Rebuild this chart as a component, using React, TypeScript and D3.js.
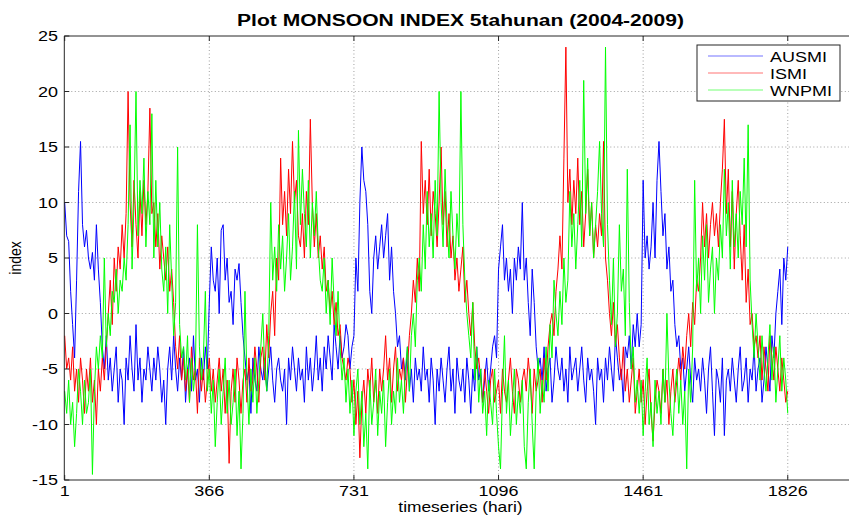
import React from "react";
import * as d3 from "d3";

const WIDTH = 849;
const HEIGHT = 515;
const FONT = "'Liberation Sans', Arial, Helvetica, sans-serif";
// the reference figure is stretched sideways, text included
const TEXT_STRETCH = 1.24;

// one value every 5 days, day 1 .. 1826
const DAY_STEP = 5;
const xTicks = [1, 366, 731, 1096, 1461, 1826];
const yTicks = [-15, -10, -5, 0, 5, 10, 15, 20, 25];
const seriesNames = ["AUSMI", "ISMI", "WNPMI"];
const seriesColors = ["#0000ff", "#ff0000", "#00ff00"];

const ausmi = [
  10, 7, 6.5, 2, -1, -4, 3, 11, 15.5, 8, // 1
  6, 7.5, 5, 4, 5.5, 3, 8, 4, 1, -3, // 51
  -5, -2, -6, -4, -7, -5, -3, -8, -5, -6, // 101
  -10, -4, -6, -2, -5, -7, -1, -6, -4, -8, // 151
  -5, -6, -3, -5, -7, -4, -6, -3, -5, -8, // 201
  -6, -10, -5, -3, -6, -2, -5, -7, -4, -6, // 251
  -3, -8, -5, -4, -7, -2, -6, -5, -8, -4, // 301
  -6, -3, -5, 1, 6, 3, 2, 5, 0, 7.5, // 351
  8, 3, 5, 1, 2, -1, 4, 3, 4.5, 1, // 401
  -2, -4, -6, -5, -9, -4, -6, -7, -3, -5, // 451
  -6, -4, -7, -5, -3, -6, -8, -5, -4, -6, // 501
  -7, -5, -10, -4, -6, -3, -5, -7, -4, -6, // 551
  -5, -8, -3, -6, -4, -7, -5, -2, -6, -4, // 601
  -7, -3, -5, -2, -4, -6, -1, -3, -5, -2, // 651
  -4, -3, -1, -2, -5, -3, -2, 5, 2, 10, // 701
  15, 12, 11, 8, 2, 0, 5, 7, 4, 6, // 751
  8, 5, 7, 9, 3, 6, 2, 0, -3, -2, // 801
  -5, -4, -6, -3, -7, -5, -8, -4, -6, -5, // 851
  -7, -3, -6, -5, -8, -4, -6, -10, -5, -7, // 901
  -4, -6, -8, -5, -3, -7, -5, -9, -4, -6, // 951
  -7, -5, -8, -4, -6, -9, -5, -7, -3, -6, // 1001
  -5, -8, -6, -4, -7, -5, -3, -2, -4, 4, // 1051
  6, 8, 3, 5, 2, 4, 0, 5, 3, 6, // 1101
  4, 10, 3, 5, 1, -2, 4, 1, -3, -5, // 1151
  -4, -6, -3, -7, -5, -4, -8, -6, -3, -5, // 1201
  -6, -4, -7, -5, -8, -3, -6, -5, -4, -7, // 1251
  -5, -3, -6, -8, -4, -6, -5, -7, -10, -4, // 1301
  -6, -5, -8, -4, -6, -3, -5, -7, -2, -4, // 1351
  -6, -5, -8, -3, -4, -2, -5, -1, -3, 0, // 1401
  -3, -1, 12, 5, 7, 4, 6, 10, 5, 12, // 1451
  15.5, 11, 7, 9, 4, 6, 2, 3, -1, -3, // 1501
  -2, -5, -4, -7, -5, -3, -6, -8, -4, -6, // 1551
  -5, -7, -4, -6, -9, -5, -3, -7, -11, -5, // 1601
  -6, -8, -4, -11, -6, -5, -7, -4, -6, -8, // 1651
  -5, -3, -7, -6, -4, -8, -5, -6, -3, -7, // 1701
  -5, -4, -8, -6, -3, -5, -7, -2, -4, 0, // 1751
  2, 4, -1, 5, 3, 6, // 1801
];

const ismi = [
  -2, -5, -4, -6, -3, -7, -5, -8, -4, -6, // 1
  -9, -5, -7, -4, -8, -6, -10, -5, -7, -4, // 51
  -6, -3, 0, 3, -1, 5, 2, 6, 4, 8, // 101
  5, 9, 20, 10, 6, 12, 8, 5, 11, 7, // 151
  12, 8, 11, 18.5, 9, 10, 6, 9, 4, 7, // 201
  5, 3, 6, 2, 4, 1, -3, -5, -2, -6, // 251
  -4, -7, -5, -8, -3, -6, -5, -9, -4, -7, // 301
  -5, -8, -6, -4, -7, -5, -8, -6, -4, -7, // 351
  -5, -9, -6, -13.5, -7, -5, -8, -4, -6, -9, // 401
  -6, -5, -8, -4, -7, -6, -3, -5, -8, -4, // 451
  -3, -6, -1, -4, 0, 2, -2, 5, 3, 14, // 501
  8, 11, 7, 13, 9, 15.5, 10, 12, 7, 6, // 551
  9, 5, 11, 8, 17.5, 10, 6, 9, 5, 7, // 601
  4, 6, 2, 3, 0, 2, -1, 1, -2, -1, // 651
  -4, -5, -6, -4, -5, -8, -6, -10, -7, -13, // 701
  -8, -6, -9, -5, -7, -4, -8, -6, -9, -5, // 751
  -7, -5, -2, -6, -4, -8, -5, -3, -7, -5, // 801
  -6, -4, -8, -5, -2, 0, 3, 1, 5, 2, // 851
  15.5, 9, 12, 8, 13, 7, 11, 9, 6, 10, // 901
  15, 8, 11, 6, 9, 5, 7, 3, 5, 2, // 951
  4, 6, 1, 3, 0, -2, 1, -3, -5, -4, // 1001
  -6, -8, -5, -7, -9, -6, -5, -8, -7, -6, // 1051
  -9, -5, -7, -8, -6, -4, -7, -9, -5, -6, // 1101
  -8, -6, -5, -7, -4, -6, -9, -5, -7, -6, // 1151
  -5, -8, -4, -6, -3, -1, 0, -2, 2, 4, // 1201
  7, 4, 14, 24, 10, 13, 8, 12, 9, 14, // 1251
  8, 11, 6, 9, 13, 7, 10, 5, 8, 6, // 1301
  9, 7, 15.5, 5, 3, 0, -2, 1, -3, -1, // 1351
  -4, -6, -3, -7, -5, -8, -6, -4, -9, -7, // 1401
  -5, -8, -6, -10, -7, -5, -9, -11.5, -8, -6, // 1451
  -7, -9, -5, -8, -6, -10, -7, -5, -8, -6, // 1501
  -4, -6, -3, -5, -2, 0, -3, 1, -1, 3, // 1551
  2, 5, 10, 6, 9, 5, 8, 10, 7, 9, // 1601
  6, 10, 13, 17.5, 9, 13, 6, 11, 4, 9, // 1651
  12, 7, 3, 8, 1, 4, -1, 0, -3, -2, // 1701
  -4, -2, -6, -3, -5, -7, -2, -4, -6, -3, // 1751
  -5, -7, -4, -6, -8, -7, // 1801
];

const wnpmi = [
  -7, -9, -6, -10, -8, -12, -9, -5, -7, -10, // 1
  -6, -9, -8, -5, -14.5, -7, -3, -5, -2, -4, // 51
  5, -3, 0, -2, 2, 1, 4, 0, 3, 2, // 101
  5, 3, 8, 17, 4, 10, 20, 7, 12, 9, // 151
  14, 6, 11, 8, 18, 5, 12, 6, 10, 4, // 201
  2, 6, 0, 8, 3, -2, 1, 15, -1, -4, // 251
  -3, -6, -2, -8, -4, -7, -5, 8, -3, -6, // 301
  -4, 2, -7, -5, -9, -6, -12, -8, -5, -10, // 351
  -7, -4, -9, -6, -10, -8, -5, -11, -7, -14, // 401
  -9, 2, -6, -10, -5, -8, -4, -9, -6, -3, // 451
  0, -5, -7, -2, 10, 3, 6, 2, 8, 4, // 501
  7, 2, 5, 9, 3, 6, 11, 4, 16.5, 8, // 551
  13, 9, 6, 12, 5, 10, 7, 11, 6, 3, // 601
  2, 5, 0, 3, -1, 5, 1, -2, 2, -3, // 651
  -6, -4, -8, -5, -9, -6, -11, -7, -5, -10, // 701
  -7, -12, -9, -14, -6, -10, -8, -5, -11, -7, // 751
  -9, -6, -12, -8, -5, -10, -7, -9, -4, -8, // 801
  -6, -9, -5, -3, -7, -2, 0, -3, 3, 5, // 851
  2, 8, 4, 11, 6, 9, 5, 12, 7, 20, // 901
  10, 6, 13, 8, 5, 11, 7, 4, 9, 6, // 951
  20, 8, 3, 0, -2, -4, 1, -6, -3, -8, // 1001
  -5, -9, -7, -11, -6, -8, -10, -5, -9, -12, // 1051
  -14, -7, -2, -9, -6, -11, -8, -5, -10, -7, // 1101
  -9, -6, -12, -14, -8, -5, -10, -14, -7, -4, // 1151
  -9, -6, -8, -3, -7, -1, -4, 3, 0, -2, // 1201
  2, -1, 5, 1, 3, 11, 6, 9, 4, 8, // 1251
  12, 6, 21, 9, 14, 7, 10, 5, 8, 11, // 1301
  15.5, 9, 6, 24, 8, 3, -1, 5, -3, 0, // 1351
  8, 2, 4, -2, 13, 1, -5, -3, -8, -6, // 1401
  -9, -6, -11, -7, -4, -10, -8, -12, -6, -9, // 1451
  -7, -10, -5, -8, 0, -6, -9, -11, -7, -5, // 1501
  -9, -6, -10, -7, -14, -5, -8, -3, 12, 2, // 1551
  5, 0, 7, 3, 8, 1, 4, 6, 0, 5, // 1601
  3, 8, 5, 13, 7, 10, 4, 12, 6, 9, // 1651
  5, 11, 8, 14, 6, 17, 3, -1, -4, 0, // 1701
  -3, -6, -2, -5, -7, -4, -1, -6, -3, -8, // 1751
  -5, -2, -7, -4, -6, -9, // 1801
];

const allSeries = [ausmi, ismi, wnpmi];

// text drawn at (x, y) and widened like the rest of the figure
function Txt({ x, y, anchor = "start", size = 14.5, bold = false, rotate = 0, children }: any) {
  return (
    <text
      transform={`translate(${x},${y}) scale(${TEXT_STRETCH},1)${rotate ? ` rotate(${rotate})` : ""}`}
      textAnchor={anchor}
      fontFamily={FONT}
      fontSize={size}
      fontWeight={bold ? "bold" : "normal"}
      fill="#000"
    >
      {children}
    </text>
  );
}

export default function App() {
  const left = 64.3;
  const right = 856.7;
  const top = 36;
  const bottom = 480;

  const x = d3.scaleLinear().domain([0, 2000]).range([left, right]);
  const y = d3.scaleLinear().domain([-15, 25]).range([bottom, top]);

  const line = d3
    .line<number>()
    .x((_, i) => x(1 + i * DAY_STEP))
    .y((d) => y(d));

  const tickLen = 5;
  const gridColor = "#777";
  const axisColor = "#262626";

  return (
    <div style={{ position: "absolute", left: 0, top: 0 }}>
      <svg width={WIDTH} height={HEIGHT} style={{ display: "block", background: "#fff" }}>
        <rect width={WIDTH} height={HEIGHT} fill="#fff" />

        {/* grid */}
        {xTicks.slice(1).map((t) => (
          <line key={"gx" + t} x1={x(t)} x2={x(t)} y1={top} y2={bottom}
            stroke={gridColor} strokeWidth={0.7} strokeDasharray="1,2.5" />
        ))}
        {yTicks.slice(1, -1).map((t) => (
          <line key={"gy" + t} x1={left} x2={right} y1={y(t)} y2={y(t)}
            stroke={gridColor} strokeWidth={0.7} strokeDasharray="1,2.5" />
        ))}

        {/* series */}
        {allSeries.map((s, k) => (
          <path key={seriesNames[k]} d={line(s) || ""} fill="none"
            stroke={seriesColors[k]} strokeWidth={1} />
        ))}

        {/* axes box */}
        <path d={`M${left},${top}H${right}M${left},${top}V${bottom}H${right}`}
          fill="none" stroke={axisColor} strokeWidth={1} />

        {/* ticks */}
        {xTicks.map((t) => (
          <g key={"tx" + t}>
            <line x1={x(t)} x2={x(t)} y1={bottom} y2={bottom - tickLen} stroke={axisColor} />
            <line x1={x(t)} x2={x(t)} y1={top} y2={top + tickLen} stroke={axisColor} />
            <Txt x={x(t)} y={495.5} anchor="middle">{t}</Txt>
          </g>
        ))}
        {yTicks.map((t) => (
          <g key={"ty" + t}>
            <line x1={left} x2={left + tickLen} y1={y(t)} y2={y(t)} stroke={axisColor} />
            <Txt x={58} y={y(t) + 5} anchor="end">{t}</Txt>
          </g>
        ))}

        {/* labels */}
        <Txt x={(left + right) / 2} y={26} anchor="middle" size={17} bold>
          Plot MONSOON INDEX 5tahunan (2004-2009)
        </Txt>
        <Txt x={(left + right) / 2} y={511.5} anchor="middle" size={14}>
          timeseries (hari)
        </Txt>
        <Txt x={21} y={(top + bottom) / 2} anchor="middle" size={14} rotate={-90}>
          index
        </Txt>

        {/* legend */}
        <g>
          <rect x={697} y={45} width={143} height={56} fill="#fff" stroke={axisColor} strokeWidth={1} />
          {seriesNames.map((n, k) => (
            <g key={"lg" + n}>
              <line x1={708} x2={763} y1={56 + k * 17} y2={56 + k * 17}
                stroke={seriesColors[k]} strokeWidth={1} strokeOpacity={0.55} />
              <Txt x={770} y={61.5 + k * 17}>{n}</Txt>
            </g>
          ))}
        </g>
      </svg>
    </div>
  );
}
